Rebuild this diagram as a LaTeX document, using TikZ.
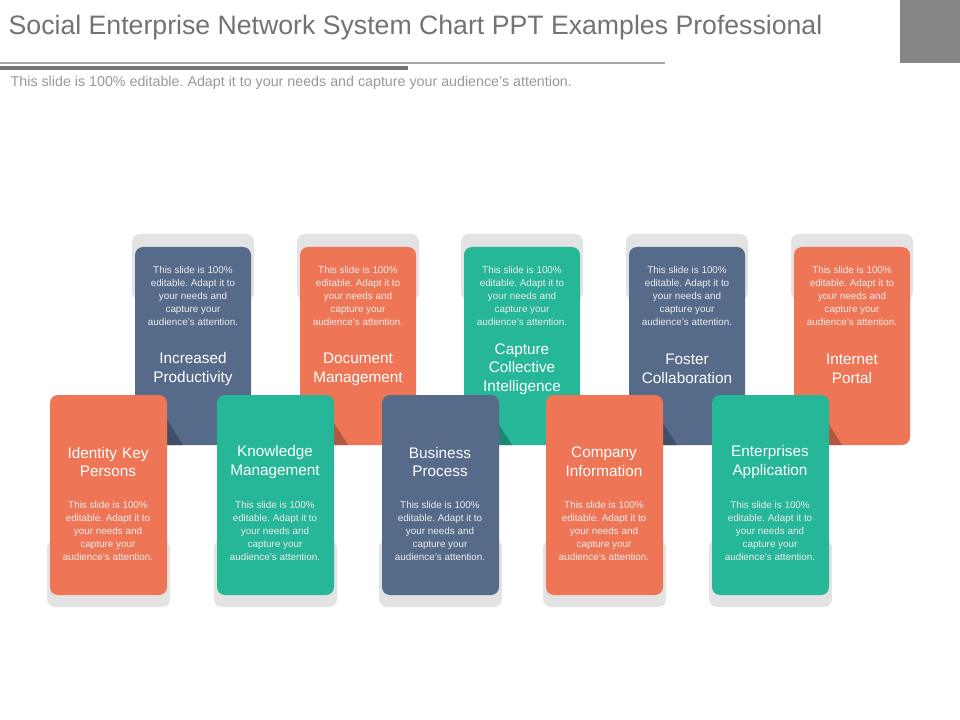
\documentclass[tikz,border=0pt]{standalone}
\usepackage{fontspec}
\setmainfont{Liberation Sans}
\frenchspacing
\definecolor{cb}{HTML}{566A8A}
\definecolor{co}{HTML}{EE7656}
\definecolor{ct}{HTML}{26B698}
\definecolor{sh}{HTML}{E3E3E3}
\newcommand{\bodytxt}{This slide is 100\%\\ editable. Adapt it to\\ your needs and\\ capture your\\ audience's attention.}
\begin{document}
\begin{tikzpicture}[x=0.75pt,y=-0.75pt,
  card/.style={rounded corners=6pt},
  small/.style={text=white!85!gray,font=\fontsize{7.4}{9.6}\selectfont,align=center},
  ttl/.style={text=white,font=\fontsize{11.5}{14}\selectfont,align=center,text width=80pt}]
\useasboundingbox (0,0) rectangle (960,720);
\fill[white] (0,0) rectangle (960,720);
\fill[gray!95] (900,0) rectangle (960,63);
\node[anchor=west,text=gray!90!black,font=\fontsize{20}{22}\selectfont] (title) at (4,28) {Social Enterprise Network System Chart PPT Examples Professional};
\fill[gray!70] (0,62) rectangle (665,64);
\fill[gray!90!black] (0,66) rectangle (408,70);
\node[anchor=west,text=gray!80,font=\fontsize{10.7}{12}\selectfont] (sub) at (6,83) {This slide is 100\% editable. Adapt it to your needs and capture your audience's attention.};
% top cards
\foreach \x/\c/\t [count=\i] in {135/cb/{Increased\\Productivity},300/co/{Document\\Management},464/ct/{Capture\\Collective\\Intelligence},629/cb/{Foster\\Collaboration},794/co/{Internet\\Portal}}{
  \fill[sh,card] (\x-3,234) rectangle (\x+119,300);
  \fill[\c,card] (\x,247) rectangle (\x+116,445);
  \fill[\c!75!black] (\x+32,420) -- (\x+48,445) -- (\x+32,445) -- cycle;
  \node[small] (ts\i) at (\x+58,296) {\bodytxt};
  \node[ttl] (tt\i) at (\x+58,369) {\t};
}
% bottom cards
\foreach \x/\c/\t [count=\i] in {50/co/{Identity Key\\Persons},217/ct/{Knowledge\\Management},382/cb/{Business\\Process},546/co/{Company\\Information},712/ct/{Enterprises\\Application}}{
  \fill[sh,card] (\x-3,540) rectangle (\x+120,607);
  \fill[\c,card] (\x,395) rectangle (\x+117,595);
  \node[ttl] (bt\i) at (\x+58,462) {\t};
  \node[small] (bs\i) at (\x+58,531) {\bodytxt};
}
\end{tikzpicture}
\end{document}
